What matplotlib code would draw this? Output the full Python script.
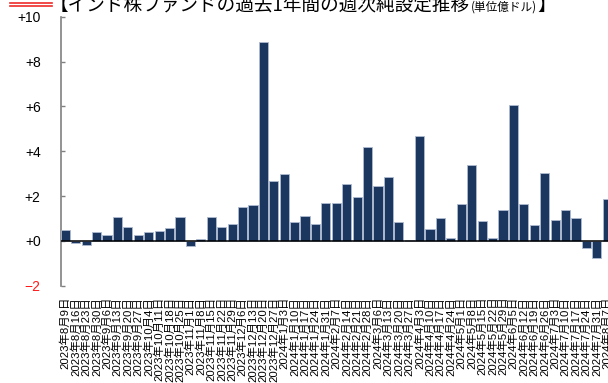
import matplotlib
matplotlib.use("Agg")
import matplotlib.pyplot as plt
from matplotlib.lines import Line2D

# Weekly net flows into India equity funds (unit: 100 million USD)
weeks = [
    "2023年8月9日", "2023年8月16日", "2023年8月23日", "2023年8月30日",
    "2023年9月6日", "2023年9月13日", "2023年9月20日", "2023年9月27日",
    "2023年10月4日", "2023年10月11日", "2023年10月18日", "2023年10月25日",
    "2023年11月1日", "2023年11月8日", "2023年11月15日", "2023年11月22日",
    "2023年11月29日", "2023年12月6日", "2023年12月13日", "2023年12月20日",
    "2023年12月27日", "2024年1月3日", "2024年1月10日", "2024年1月17日",
    "2024年1月24日", "2024年1月31日", "2024年2月7日", "2024年2月14日",
    "2024年2月21日", "2024年2月28日", "2024年3月6日", "2024年3月13日",
    "2024年3月20日", "2024年3月27日", "2024年4月3日", "2024年4月10日",
    "2024年4月17日", "2024年4月24日", "2024年5月1日", "2024年5月8日",
    "2024年5月15日", "2024年5月22日", "2024年5月29日", "2024年6月5日",
    "2024年6月12日", "2024年6月19日", "2024年6月26日", "2024年7月3日",
    "2024年7月10日", "2024年7月17日", "2024年7月24日", "2024年7月31日",
    "2024年8月7日",
]
net_flows = [
    0.49, -0.08, -0.18, 0.39, 0.24, 1.06, 0.63, 0.27, 0.40, 0.46, 0.57, 1.06,
    -0.22, 0.09, 1.06, 0.60, 0.77, 1.50, 1.60, 8.85, 2.68, 2.99, 0.83, 1.09,
    0.74, 1.68, 1.68, 2.53, 1.95, 4.18, 2.44, 2.87, 0.83, 0.05, 4.69, 0.52,
    1.01, 0.15, 1.65, 3.39, 0.87, 0.13, 1.38, 6.06, 1.64, 0.71, 3.04, 0.94,
    1.37, 1.01, -0.33, -0.77, 1.87,
]
y_ticks = [-2, 0, 2, 4, 6, 8, 10]
y_tick_labels = ["−2", "+0", "+2", "+4", "+6", "+8", "+10"]

title_main = "【インド株ファンドの過去1年間の週次純設定推移"
title_unit = "(単位億ドル)"
title_end = "】"

W, H = 608, 383
fig = plt.figure(figsize=(W / 100, H / 100), dpi=100)

jp = ["Noto Sans CJK JP", "DejaVu Sans"]
mixed = ["Liberation Sans", "Noto Sans CJK JP", "DejaVu Sans"]

ax_left = 60.7 / W
ax_bottom = 1 - 285.7 / H
ax_top = 1 - 16.7 / H
ax = fig.add_axes([ax_left, ax_bottom, 551.7 / W, ax_top - ax_bottom])

x = list(range(len(weeks)))
ax.bar(x, net_flows, width=0.88, color="#1b375f", edgecolor="#aebbd0",
       linewidth=0.6, zorder=3)
ax.axhline(0, color="black", linewidth=1.1, zorder=4)

ax.set_xlim(-0.45, len(weeks) - 0.5)
ax.set_ylim(-2, 10)

ax.set_yticks(y_ticks)
ax.set_yticklabels(y_tick_labels, fontfamily="Liberation Sans", fontsize=10)
for lbl, v in zip(ax.get_yticklabels(), y_ticks):
    lbl.set_color("#ff1a1a" if v < 0 else "black")
ax.tick_params(axis="y", direction="in", length=3, width=1, color="#808080",
               pad=14.4)

ax.set_xticks(x)
ax.set_xticklabels(weeks, rotation=90, fontsize=8.2, family=mixed, va="top",
                   ha="center")
ax.tick_params(axis="x", length=0, pad=8)

for side in ("top", "right", "bottom"):
    ax.spines[side].set_visible(False)
ax.spines["left"].set_color("#808080")
ax.spines["left"].set_linewidth(1.2)

# Title (sits at the very top edge of the canvas)
base_y = 1 - 11 / H
t1 = fig.text(50 / W, base_y, title_main, fontsize=13.4, family=jp,
              va="baseline", ha="left")
fig.canvas.draw()
r = fig.canvas.get_renderer()
bb = t1.get_window_extent(r)
t2 = fig.text(bb.x1 / W + 1 / W, base_y, title_unit, fontsize=8.4, family=jp,
              va="baseline", ha="left")
bb2 = t2.get_window_extent(r)
fig.text(bb2.x1 / W, base_y, title_end, fontsize=13.4, family=jp,
         va="baseline", ha="left")

# Red double rule at top-left
for yy in (2.7, 6.0):
    fig.add_artist(Line2D([10 / W, 52 / W], [1 - yy / H, 1 - yy / H],
                          color="#ee2a2a", linewidth=1.2,
                          transform=fig.transFigure))

fig.savefig("out.png", dpi=100)
